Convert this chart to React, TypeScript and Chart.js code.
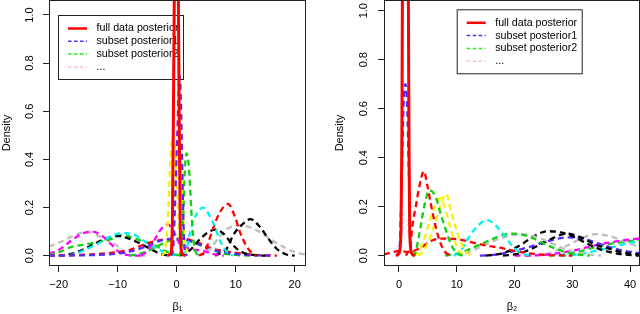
import React, { useEffect, useRef } from 'react';
import { Chart, registerables } from 'chart.js';

Chart.register(...registerables);

type P = [number, number][];

const FONT = '"Liberation Sans", Arial, Helvetica, sans-serif';

// ---- tick labels / axis labels ----
const xTicksB1 = [-20, -10, 0, 10, 20];
const xTicksB2 = [0, 10, 20, 30, 40];
const yTicks = [0, 0.2, 0.4, 0.6, 0.8, 1.0];
const xTitleB1 = 'β₁';
const xTitleB2 = 'β₂';
const yTitle = 'Density';
const legendLabels = ['full data posterior', 'subset posterior1', 'subset posterior2', '...'];

// ---- colours (R palette) ----
const RED = '#ff0000';
const BLUE = '#5a28ff';
const GREEN = '#11cf11';
const CYAN = '#00f0f0';
const MAGENTA = '#ff00ff';
const YELLOW = '#f4f400';
const GRAY = '#bebebe';
const BLACK = '#000000';
const legendColors = [RED, BLUE, '#22ee22', '#ffc0cb'];

// ---- beta1 densities (x, density) ----
const b1Full: P = [[-1.6, 0], [-1.0, 0.01], [-0.75, 0.1], [-0.55, 0.6], [-0.3, 1.4], [-0.05, 2.0], [0.2, 1.4], [0.42, 0.6], [0.62, 0.1], [0.9, 0.01], [1.5, 0]];
const b1BlueNarrow: P = [[-1.0, 0], [-0.6, 0.03], [-0.3, 0.2], [0.1, 0.5], [0.5, 0.75], [0.85, 0.5], [1.05, 0.23], [1.35, 0.03], [1.8, 0]];
const b1Yellow1: P = [[-2.5, 0], [-1.9, 0.03], [-1.5, 0.15], [-1.1, 0.38], [-0.6, 0.5], [-0.1, 0.38], [0.3, 0.15], [0.7, 0.03], [1.2, 0]];
const b1Yellow2: P = [[-1.5, 0], [-1.0, 0.03], [-0.6, 0.2], [-0.2, 0.4], [0.2, 0.47], [0.6, 0.43], [0.95, 0.25], [1.3, 0.08], [1.6, 0.02], [2.2, 0]];
const b1GreenNarrow: P = [[0.3, 0], [0.8, 0.03], [1.1, 0.15], [1.4, 0.36], [1.7, 0.425], [2.1, 0.36], [2.45, 0.2], [2.75, 0.09], [3.1, 0.025], [3.7, 0]];
const b1Cyan: P = [[1, 0], [1.7, 0.03], [2.3, 0.1], [3.3, 0.17], [4.5, 0.2], [5.5, 0.17], [6.3, 0.13], [7.4, 0.06], [8.4, 0.018], [9.5, 0]];
const b1RedMid: P = [[3.8, 0], [4.9, 0.02], [5.4, 0.058], [6.2, 0.114], [7.1, 0.17], [8.7, 0.215], [9.9, 0.16], [10.7, 0.1], [11.6, 0.05], [12.4, 0.02], [13.5, 0]];
const b1BlackRight: P = [[6.5, 0], [8.5, 0.03], [9.6, 0.086], [11, 0.127], [12.5, 0.152], [14.1, 0.12], [15.3, 0.079], [16.9, 0.03], [18.6, 0.005], [20, 0]];
const b1BlackMid: P = [[0.5, 0], [2.3, 0.024], [4, 0.07], [5.5, 0.1], [6.6, 0.108], [8, 0.09], [9.5, 0.045], [11, 0.015], [13, 0.003], [15, 0]];
const b1GrayRight: P = [[3.5, 0], [5.5, 0.025], [7, 0.07], [8.5, 0.11], [10.5, 0.125], [12.5, 0.118], [14.3, 0.095], [16, 0.067], [17.5, 0.045], [19, 0.025], [20.8, 0.01], [21.9, 0.005]];
const b1GrayLeft: P = [[-21.64, 0.037], [-19, 0.065], [-16.5, 0.093], [-15, 0.097], [-13, 0.08], [-11.5, 0.06], [-10, 0.04], [-8.7, 0.01], [-7, 0.001], [-5, 0]];
const b1MagentaLeft: P = [[-21.64, 0.008], [-20, 0.024], [-18, 0.06], [-16, 0.092], [-14.3, 0.1], [-12.8, 0.085], [-11.2, 0.05], [-9.6, 0.012], [-8, 0.002], [-6, 0]];
const b1CyanLeft: P = [[-21.64, 0], [-18, 0.003], [-15.5, 0.025], [-13.2, 0.052], [-11, 0.082], [-9, 0.095], [-7, 0.085], [-5.3, 0.058], [-3, 0.025], [-1, 0.005], [0.5, 0]];
const b1BlackLeft: P = [[-20, 0], [-17.5, 0.01], [-15.5, 0.03], [-13.5, 0.055], [-11.5, 0.075], [-10, 0.082], [-8, 0.07], [-6, 0.048], [-4.6, 0.03], [-3, 0.01], [-1.5, 0]];
const b1GreenLeft: P = [[-21.64, 0.003], [-20, 0.014], [-18, 0.035], [-16, 0.045], [-13, 0.058], [-11, 0.07], [-9.1, 0.086], [-7.5, 0.075], [-5.5, 0.058], [-3.8, 0.045], [-2, 0.02], [0, 0.003], [1, 0]];
const b1GreenWide: P = [[-8, 0], [-6, 0.01], [-4, 0.03], [-2, 0.055], [0, 0.068], [2, 0.062], [3.9, 0.044], [5.4, 0.03], [7.5, 0.012], [10, 0.003], [13, 0]];
const b1BlueWide: P = [[-21.64, 0], [-12, 0.005], [-8, 0.017], [-5, 0.04], [-2.5, 0.065], [0, 0.07], [2.5, 0.06], [5.4, 0.03], [8.5, 0.012], [12, 0.003], [16, 0]];
const b1RedWide: P = [[-21.64, 0], [-14, 0.006], [-10, 0.015], [-7.9, 0.024], [-5.2, 0.05], [-2, 0.068], [1, 0.072], [3.5, 0.055], [6, 0.03], [9.5, 0.014], [13, 0.004], [17, 0]];
const b1MagentaMid: P = [[-6, 0], [-4.6, 0.03], [-3.6, 0.072], [-2.5, 0.115], [-1.5, 0.13], [-0.5, 0.1], [0.5, 0.05], [2, 0.03], [4.5, 0.02], [6.5, 0.005], [8, 0]];

// ---- beta2 densities (x, density) ----
const b2Full: P = [[-0.5, 0], [0, 0.01], [0.35, 0.1], [0.5, 0.5], [0.7, 1.8], [1.1, 4], [1.5, 1.8], [1.72, 0.5], [1.85, 0.1], [2.2, 0.01], [2.8, 0]];
const b2BlueNarrow: P = [[-0.5, 0], [0.1, 0.03], [0.45, 0.3], [0.8, 0.62], [1.1, 0.7], [1.4, 0.62], [1.75, 0.3], [2.1, 0.03], [2.6, 0]];
const b2RedMid: P = [[1.2, 0], [2, 0.05], [2.3, 0.118], [2.9, 0.2], [3.5, 0.28], [4.3, 0.345], [4.9, 0.288], [5.5, 0.213], [6.35, 0.118], [7.2, 0.05], [8, 0.015], [9, 0]];
const b2GreenMid: P = [[2.2, 0], [2.9, 0.015], [3.2, 0.05], [3.75, 0.118], [4.35, 0.2], [5.3, 0.267], [6.35, 0.24], [7.2, 0.172], [8.1, 0.105], [8.95, 0.05], [9.8, 0.015], [11, 0]];
const b2Yellow1: P = [[3.3, 0], [4.3, 0.02], [5.2, 0.064], [6.05, 0.118], [6.9, 0.186], [8.2, 0.252], [8.95, 0.186], [9.8, 0.118], [10.55, 0.064], [11.5, 0.02], [12.5, 0]];
const b2Yellow2: P = [[2.5, 0], [3.5, 0.02], [4.4, 0.07], [5.3, 0.14], [6.2, 0.2], [7.1, 0.235], [7.9, 0.2], [8.7, 0.13], [9.5, 0.07], [10.4, 0.02], [11.5, 0]];
const b2Cyan: P = [[9.5, 0], [10.7, 0.02], [11.8, 0.064], [13, 0.105], [15.2, 0.145], [17.5, 0.105], [18.8, 0.064], [20, 0.03], [21.5, 0.008], [23, 0]];
const b2GreenWide: P = [[8, 0], [11, 0.015], [13, 0.035], [15.8, 0.064], [18, 0.085], [20, 0.09], [22.5, 0.078], [25, 0.05], [27.5, 0.025], [30, 0.008], [33, 0]];
const b2GrayWide: P = [[8, 0], [12, 0.015], [15, 0.045], [18, 0.075], [21.5, 0.087], [24, 0.075], [26.5, 0.05], [29, 0.025], [32, 0.008], [35, 0]];
const b2Black1: P = [[15, 0], [18, 0.01], [20, 0.03], [21.5, 0.05], [23.2, 0.078], [25.8, 0.1], [28, 0.095], [30.5, 0.075], [32.5, 0.05], [35, 0.025], [38, 0.008], [41.7, 0]];
const b2Black2: P = [[18, 0], [21, 0.01], [24, 0.04], [26.5, 0.07], [29, 0.09], [31.5, 0.075], [34, 0.045], [36.5, 0.028], [39, 0.012], [41.7, 0.005]];
const b2BlueWide: P = [[14, 0], [17, 0.005], [20, 0.02], [22.5, 0.035], [25.5, 0.058], [29.5, 0.075], [32.5, 0.065], [35.3, 0.044], [38, 0.025], [41.7, 0.01]];
const b2Magenta: P = [[20, 0], [25, 0.003], [28, 0.012], [31, 0.025], [33.5, 0.04], [36, 0.052], [38.5, 0.062], [41.7, 0.07]];
const b2GrayRight: P = [[22, 0], [26, 0.01], [29, 0.04], [31.5, 0.07], [34, 0.088], [36.5, 0.08], [39, 0.058], [41.7, 0.035]];
const b2CyanRight: P = [[28, 0], [31, 0.005], [34, 0.02], [37, 0.035], [39.5, 0.05], [41.7, 0.058]];
const b2GreenRight: P = [[26, 0], [30, 0.01], [34, 0.035], [37, 0.05], [40, 0.06], [41.7, 0.065]];
const b2RedWide: P = [[-2.6, 0.005], [-1, 0.015], [0, 0.02], [1.5, 0.015], [3.6, 0.03], [5.5, 0.06], [7.5, 0.07], [10, 0.068], [12.5, 0.055], [15, 0.042], [18, 0.03], [21, 0.015], [25, 0.004], [30, 0]];

type Curve = { pts: P; color: string; solid?: boolean };

const b1Curves: Curve[] = [
  { pts: b1Full, color: RED, solid: true },
  { pts: b1BlueNarrow, color: BLUE },
  { pts: b1GreenNarrow, color: GREEN },
  { pts: b1Yellow1, color: YELLOW },
  { pts: b1Yellow2, color: YELLOW },
  { pts: b1MagentaMid, color: MAGENTA },
  { pts: b1Cyan, color: CYAN },
  { pts: b1RedMid, color: RED },
  { pts: b1BlackRight, color: BLACK },
  { pts: b1BlackMid, color: BLACK },
  { pts: b1GrayRight, color: GRAY },
  { pts: b1BlueWide, color: BLUE },
  { pts: b1RedWide, color: RED },
  { pts: b1GreenWide, color: GREEN },
  { pts: b1CyanLeft, color: CYAN },
  { pts: b1BlackLeft, color: BLACK },
  { pts: b1GreenLeft, color: GREEN },
  { pts: b1MagentaLeft, color: MAGENTA },
  { pts: b1GrayLeft, color: GRAY },
];

const b2Curves: Curve[] = [
  { pts: b2Full, color: RED, solid: true },
  { pts: b2BlueNarrow, color: BLUE },
  { pts: b2RedMid, color: RED },
  { pts: b2GreenMid, color: GREEN },
  { pts: b2Yellow1, color: YELLOW },
  { pts: b2Yellow2, color: YELLOW },
  { pts: b2Cyan, color: CYAN },
  { pts: b2RedWide, color: RED },
  { pts: b2GreenWide, color: GREEN },
  { pts: b2GrayWide, color: GRAY },
  { pts: b2Black1, color: BLACK },
  { pts: b2Black2, color: BLACK },
  { pts: b2BlueWide, color: BLUE },
  { pts: b2Magenta, color: MAGENTA },
  { pts: b2GrayRight, color: GRAY },
  { pts: b2CyanRight, color: CYAN },
  { pts: b2GreenRight, color: GREEN },
];

const rLegend = {
  id: 'rLegend',
  beforeDatasetsDraw(chart: any, _a: any, opts: any) {
    const { ctx } = chart;
    const { x, y, w, h } = opts;
    ctx.save();
    ctx.fillStyle = '#ffffff';
    ctx.fillRect(x, y, w, h);
    ctx.strokeStyle = '#222222';
    ctx.lineWidth = 1;
    ctx.setLineDash([]);
    ctx.strokeRect(x + 0.5, y + 0.5, w, h);
    ctx.font = `10.7px ${FONT}`;
    ctx.textBaseline = 'middle';
    ctx.textAlign = 'left';
    legendLabels.forEach((lab, i) => {
      const yy = y + 13.5 + i * 12.8;
      ctx.beginPath();
      ctx.strokeStyle = legendColors[i];
      if (i === 0) {
        ctx.setLineDash([]);
        ctx.lineWidth = 2.5;
      } else {
        ctx.setLineDash([3.5, 2.5]);
        ctx.lineWidth = 1.5;
      }
      ctx.moveTo(x + 10, yy);
      ctx.lineTo(x + 29, yy);
      ctx.stroke();
      ctx.fillStyle = '#000000';
      ctx.fillText(lab, x + 38.5, yy);
    });
    ctx.restore();
  },
};

const rBox = {
  id: 'rBox',
  afterDatasetsDraw(chart: any) {
    const { ctx, chartArea: a } = chart;
    ctx.save();
    ctx.strokeStyle = '#222222';
    ctx.lineWidth = 1;
    ctx.setLineDash([]);
    ctx.strokeRect(a.left + 0.5, a.top + 0.5, a.right - a.left - 1, a.bottom - a.top - 1);
    ctx.restore();
  },
};

const fmtX = (v: number) => (v < 0 ? '\u2212' + Math.abs(v) : String(v));

const zeroPad = (s: any) => {
  s.paddingTop = 0;
  s.paddingBottom = 0;
  s.paddingLeft = 0;
  s.paddingRight = 0;
};

type PanelProps = {
  left: number;
  curves: Curve[];
  xMin: number;
  xMax: number;
  yMin: number;
  yMax: number;
  xTicks: number[];
  xTitle: string;
  padLeft: number;
  padRight: number;
  yWidth: number;
  yTickPad: number;
  legend: { x: number; y: number; w: number; h: number };
};

function Panel(p: PanelProps) {
  const ref = useRef<HTMLCanvasElement>(null);
  useEffect(() => {
    const datasets = p.curves.map((c) => ({
      data: c.pts.map(([x, y]) => ({ x, y })),
      borderColor: c.color,
      borderWidth: c.solid ? 3 : 2.3,
      borderDash: c.solid ? [] : [6, 4],
      borderCapStyle: 'butt',
      borderJoinStyle: 'round',
      pointRadius: 0,
      fill: false,
      cubicInterpolationMode: 'monotone',
    }));
    const font = { family: FONT, size: 11 };
    const chart = new Chart(ref.current!, {
      type: 'line',
      data: { datasets } as any,
      options: {
        animation: false,
        responsive: false,
        devicePixelRatio: 1,
        events: [],
        layout: { padding: { left: p.padLeft, right: p.padRight, top: 0, bottom: 0 } },
        plugins: {
          legend: { display: false },
          tooltip: { enabled: false },
          rLegend: p.legend,
        } as any,
        scales: {
          x: {
            type: 'linear',
            min: p.xMin,
            max: p.xMax,
            afterBuildTicks: (s: any) => {
              s.ticks = p.xTicks.map((v) => ({ value: v }));
            },
            afterFit: (s: any) => {
              s.height = 48;
              zeroPad(s);
            },
            grid: { display: true, drawOnChartArea: false, drawTicks: true, tickLength: 6, color: '#222222', tickColor: '#222222', lineWidth: 1 },
            border: { display: false },
            ticks: { autoSkip: false, minRotation: 0, maxRotation: 0, padding: 6, color: '#000000', font, callback: (v: any) => fmtX(Number(v)) },
            title: { display: true, text: p.xTitle, color: '#000000', font, padding: 0 },
          },
          y: {
            type: 'linear',
            min: p.yMin,
            max: p.yMax,
            afterBuildTicks: (s: any) => {
              s.ticks = yTicks.map((v) => ({ value: v }));
            },
            afterFit: (s: any) => {
              s.width = p.yWidth;
              zeroPad(s);
            },
            grid: { display: true, drawOnChartArea: false, drawTicks: true, tickLength: 6, color: '#222222', tickColor: '#222222', lineWidth: 1 },
            border: { display: false },
            ticks: { autoSkip: false, minRotation: 90, maxRotation: 90, crossAlign: 'center', padding: p.yTickPad, color: '#000000', font, callback: (v: any) => Number(v).toFixed(1) },
            title: { display: true, text: yTitle, color: '#000000', font, padding: 0 },
          },
        },
      } as any,
      plugins: [rLegend, rBox] as any,
    });
    return () => chart.destroy();
  }, []);
  return (
    <canvas
      ref={ref}
      width={320}
      height={314}
      style={{ position: 'absolute', left: p.left, top: 0, width: 320, height: 314 }}
    />
  );
}

export default function App() {
  return (
    <div style={{ position: 'absolute', left: 0, top: 0, width: 640, height: 314, background: '#ffffff', overflow: 'hidden' }}>
      <Panel
        left={0}
        curves={b1Curves}
        xMin={-21.64}
        xMax={21.92}
        yMin={-0.0428}
        yMax={1.0623}
        xTicks={xTicksB1}
        xTitle={xTitleB1}
        padLeft={0}
        padRight={14}
        yWidth={49}
        yTickPad={4.9}
        legend={{ x: 58, y: 15, w: 125, h: 64 }}
      />
      <Panel
        left={320}
        curves={b2Curves}
        xMin={-2.597}
        xMax={41.73}
        yMin={-0.042}
        yMax={1.0437}
        xTicks={xTicksB2}
        xTitle={xTitleB2}
        padLeft={13.4}
        padRight={0}
        yWidth={50.6}
        yTickPad={6.6}
        legend={{ x: 136.7, y: 9.3, w: 125, h: 64 }}
      />
    </div>
  );
}
